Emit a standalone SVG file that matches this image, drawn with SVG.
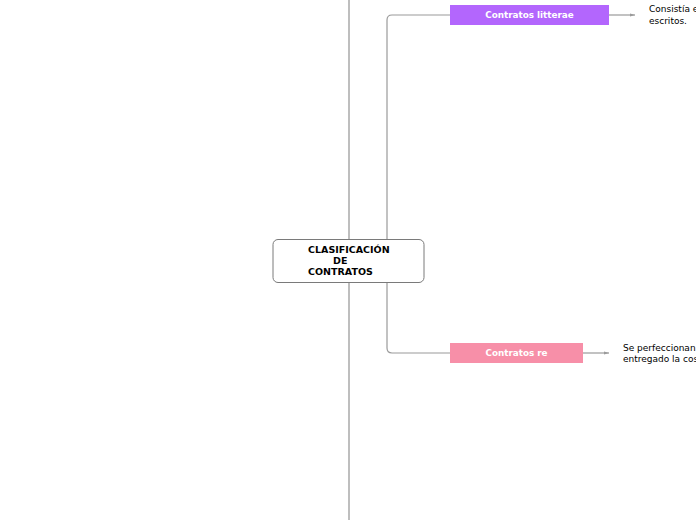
<svg xmlns="http://www.w3.org/2000/svg" width="696" height="520" viewBox="0 0 696 520">
<style>
.conn{fill:none;stroke:#9a9a9a;stroke-width:1.2}
.bt{font-family:"DejaVu Sans",Verdana,sans-serif;font-size:9.5px;font-weight:bold}
.bl{font-family:"DejaVu Sans",Verdana,sans-serif;font-size:8.8px;font-weight:bold;fill:#fff}
.lt{font-family:"DejaVu Sans",Verdana,sans-serif;font-size:9px;fill:#000}
</style>
<defs>
<marker id="ah" markerWidth="6" markerHeight="6" refX="5" refY="3" orient="auto" markerUnits="userSpaceOnUse">
<path d="M0,1.5 L5,3 L0,4.5 Z" fill="#9a9a9a"/>
</marker>
</defs>
<rect width="696" height="520" fill="#fff"/>
<g id="connectors">
<line x1="349" y1="0" x2="349" y2="520" stroke="#a8a8a8" stroke-width="1.5"/>
<path class="conn" d="M387,239 V20 Q387,15 392,15 H450"/>
<path class="conn" d="M387,282 V348 Q387,353 392,353 H450"/>
<line class="conn" x1="609" y1="15" x2="635" y2="15" marker-end="url(#ah)"/>
<line class="conn" x1="583" y1="353" x2="609" y2="353" marker-end="url(#ah)"/>
</g>
<g id="central">
<rect x="273" y="239.5" width="151" height="43" rx="5" fill="#fff" stroke="#7a7a7a" stroke-width="1"/>
<text class="bt" fill="#000"><tspan x="308" y="253">CLASIFICACIÓN</tspan><tspan x="333" y="264">DE</tspan><tspan x="308" y="275">CONTRATOS</tspan></text>
</g>
<g id="litterae">
<rect x="450" y="5" width="159" height="20" fill="#b366fd"/>
<text class="bl" x="529.5" y="18" text-anchor="middle">Contratos litterae</text>
</g>
<g id="litterae-desc">
<text class="lt"><tspan x="649" y="12">Consistía e</tspan><tspan x="649" y="24">escritos.</tspan></text>
</g>
<g id="re">
<rect x="450" y="343" width="133" height="20" fill="#f78fa8"/>
<text class="bl" x="516.5" y="356" text-anchor="middle">Contratos re</text>
</g>
<g id="re-desc">
<text class="lt"><tspan x="623" y="351">Se perfeccionan</tspan><tspan x="623" y="362">entregado la cos</tspan></text>
</g>
</svg>
